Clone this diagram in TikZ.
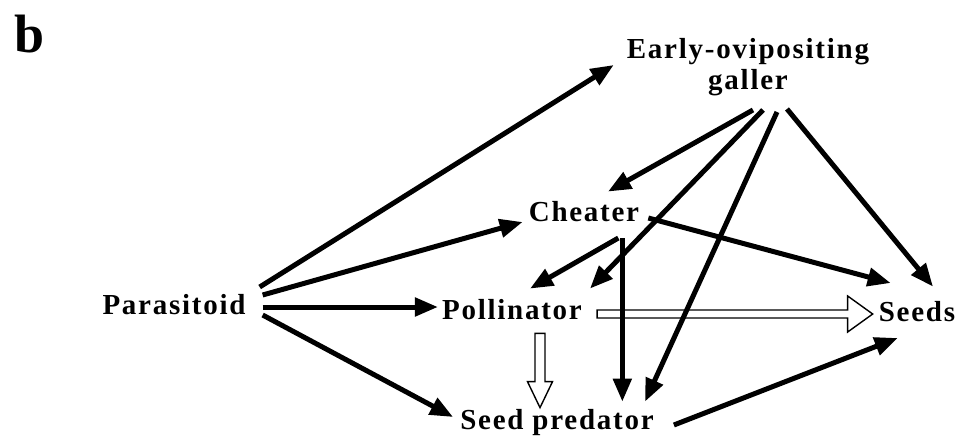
\documentclass[tikz,border=0pt]{standalone}
\usepackage{fontspec}
\setmainfont{Liberation Serif}
\newfontfamily\lbl[LetterSpace=6]{Liberation Serif}
\usetikzlibrary{arrows.meta,calc}
\begin{document}
\begin{tikzpicture}[x=1pt,y=-1pt,
  lab/.style={font=\lbl\bfseries\fontsize{29}{31}\selectfont, inner sep=0pt, align=center},
  arr/.style={line width=5pt, -{Triangle[length=23pt,width=18pt]}},
  openarr/.style={draw=black, fill=white, line width=1.4pt, line join=miter}]
\useasboundingbox (0,0) rectangle (964,445);
\node[font=\bfseries\fontsize{54}{60}\selectfont, inner sep=0pt] (b) at (30,34) {b};
\node[lab] (ear) at (748,67) {Early-ovipositing\\galler};
\node[lab] (che) at (584,212) {Cheater};
\node[lab] (par) at (174,305) {Parasitoid};
\node[lab] (pol) at (512,310) {Pollinator};
\node[lab] (see) at (917,312) {Seeds};
\node[lab] (pre) at (557,423) {Seed predator};
% open arrows
\coordinate (h1) at ($(pol.east)+(15,4)$);
\coordinate (h2) at ($(see.west |- h1)+(-6,0)$);
\draw[openarr] ($(h1)+(0,-4)$) -- ($(h2)+(-25,-4)$) -- ($(h2)+(-25,-18)$) -- (h2)
  -- ($(h2)+(-25,18)$) -- ($(h2)+(-25,4)$) -- ($(h1)+(0,4)$) -- cycle;
\coordinate (v1) at ($(pol.south)+(28,13)$);
\coordinate (v2) at ($(v1 |- pre.north)+(0,-2)$);
\draw[openarr] ($(v1)+(-5,0)$) -- ($(v2)+(-5,-26)$) -- ($(v2)+(-12.5,-26)$) -- (v2)
  -- ($(v2)+(12.5,-26)$) -- ($(v2)+(5,-26)$) -- ($(v1)+(5,0)$) -- cycle;
% black arrows
\draw[arr] ($(par.east)+(14,-18)$) -- ($(ear.west)+(-13,-2)$);
\draw[arr] ($(par.east)+(17,-10)$) -- ($(che.west)+(-6,10)$);
\draw[arr] ($(par.east)+(17,2)$) -- ($(pol.west)+(-4,-3)$);
\draw[arr] ($(par.east)+(17,10)$) -- ($(pre.west)+(-7,-6)$);
\draw[arr] ($(ear.south)+(5,14)$) -- ($(che.north)+(24,-10)$);
\draw[arr] ($(ear.south)+(15,14)$) -- ($(pol.north)+(78,-11)$);
\draw[arr] ($(ear.south)+(29,16)$) -- ($(pre.north)+(88,-8)$);
\draw[arr] ($(ear.south)+(39,13)$) -- ($(see.north)+(16,-15)$);
\draw[arr] ($(che.east)+(9,6)$) -- ($(see.west)+(12,-29)$);
\draw[arr] ($(che.east)+(-21,26)$) -- ($(pol.north)+(18,-11)$);
\draw[arr] ($(che.east)+(-17,26)$) -- ($(che.east |- pre.north)+(-17,-8)$);
\draw[arr] ($(pre.east)+(20,2)$) -- ($(see.west)+(19,26)$);
\end{tikzpicture}
\end{document}
